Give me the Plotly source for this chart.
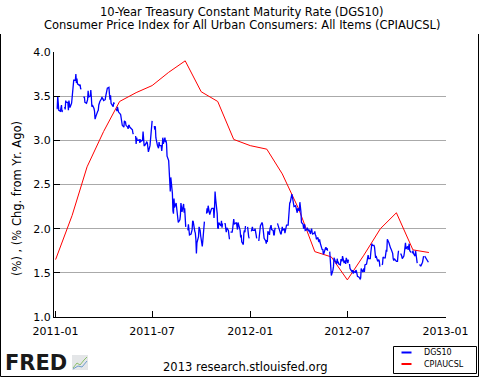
import pandas as pd
import plotly.graph_objects as go

# ---------------- data ----------------
cpi_dates = pd.date_range("2011-01-01", "2012-12-01", freq="MS")
cpi_values = [1.65, 2.15, 2.70, 3.10, 3.44, 3.54, 3.62, 3.77, 3.90, 3.55, 3.44, 3.01,
              2.94, 2.90, 2.62, 2.22, 1.74, 1.68, 1.42, 1.70, 2.00, 2.18, 1.76, 1.73]

dgs10_2011 = [
    # Jan
    3.36, 3.36, 3.50, 3.44, 3.34, 3.33, 3.37, 3.40, 3.32, 3.34, None, 3.38, 3.35, 3.45, 3.43,
    3.43, 3.34, 3.45, 3.41, 3.37, 3.42,
    # Feb
    3.48, 3.52, 3.58, 3.68, 3.68, 3.75, 3.65, 3.70, 3.64, 3.62, 3.62, 3.63, 3.58, 3.59,
    None, 3.49, 3.49, 3.49, 3.43, 3.42,
    # Mar
    3.44, 3.46, 3.56, 3.49, 3.50, 3.57, 3.49, 3.38, 3.40, 3.36, 3.33, 3.24, 3.27, 3.28,
    3.33, 3.34, 3.40, 3.44, 3.44, 3.47, 3.49, 3.47, 3.47,
    # Apr
    3.45, 3.46, 3.50, 3.56, 3.56, 3.59, 3.60, 3.52, 3.46, 3.51, 3.42, 3.39, 3.38, 3.43, 3.41,
    None, 3.36, 3.33, 3.38, 3.35, 3.32,
    # May
    3.30, 3.29, 3.25, 3.18, 3.17, 3.15, 3.22, 3.21, 3.21, 3.17, 3.15, 3.13, 3.17, 3.17, 3.15,
    3.13, 3.13, 3.12, 3.08, 3.07, None, 3.05,
    # Jun
    2.96, 3.03, 3.00, 3.00, 3.01, 2.97, 3.01, 2.99, 3.00, 3.10, 2.98, 2.94, 2.94,
    2.97, 2.98, 2.97, 2.93, 2.87, 2.94, 3.03, 3.11, 3.18,
    # Jul
    3.22, None, 3.16, 3.12, 3.16, 3.03, 2.94, 2.92, 2.91, 2.98, 2.94, 2.94, 2.88, 2.94, 3.03,
    2.96, 3.03, 2.98, 3.00, 2.96, 2.82,
    # Aug
    2.77, 2.66, 2.64, 2.42, 2.58, 2.40, 2.20, 2.17, 2.34, 2.24, 2.29, 2.23, 2.17, 2.08, 2.07,
    2.10, 2.15, 2.29, 2.23, 2.19, 2.28, 2.18, 2.23,
    # Sep
    2.15, 2.02, None, 1.98, 2.05, 1.99, 1.93, 1.94, 1.98, 1.99, 2.09, 2.08, 1.97, 1.95, 1.88,
    1.72, 1.84, 1.91, 2.02, 2.00, 1.98, 1.92,
    # Oct
    1.80, 1.86, 1.91, 2.00, 2.08, None, 2.17, 2.23, 2.18, 2.26, 2.16, 2.20, 2.20, 2.22, 2.23,
    2.23, 2.12, 2.23, 2.42, 2.34, 2.17,
    # Nov
    2.01, 2.00, 2.07, 2.06, 2.03, 2.09, 2.01, 2.06, None, 2.05, 2.06, 2.00, 1.96, 2.01,
    1.98, 1.93, 1.88, None, 1.96, 1.96, 2.00, 2.08,
    # Dec
    2.11, 2.05, 2.06, 2.07, 2.03, 1.99, 2.07, 2.02, 1.98, 1.90, 1.93, 1.85, 1.82, 1.95, 1.98,
    1.96, 2.03, None, 2.02, 1.93, 1.91, 1.89,
]

dgs10_2012 = [
    # Jan
    None, 1.97, 1.99, 2.02, 1.98, 1.98, 2.00, 1.93, 1.93, 1.89, None, 1.86, 1.92, 1.98, 2.03,
    2.07, 2.05, 2.00, 1.95, 1.89, 1.86, 1.83,
    # Feb
    1.87, 1.85, 1.97, 1.93, 2.00, 2.02, 2.04, 1.99, 1.98, 1.93, 1.93, 1.99, 2.01,
    None, 2.06, 2.04, 2.01, 1.98, 1.94, 1.94, 1.98,
    # Mar
    2.02, 1.98, 2.00, 1.95, 1.99, 2.03, 2.04, 2.04, 2.14, 2.29, 2.29, 2.30,
    2.39, 2.36, 2.30, 2.29, 2.25, 2.26, 2.21, 2.20, 2.18, 2.23,
    # Apr
    2.20, 2.30, 2.25, 2.19, 2.07, 2.05, 2.00, 2.04, 2.05, 1.98, 1.99, 2.01, 1.98, 1.97, 1.99,
    1.94, 1.98, 2.00, 1.96, 1.94, 1.95,
    # May
    1.97, 1.93, 1.92, 1.88, 1.90, 1.86, 1.85, 1.88, 1.84, 1.78, 1.76, 1.77, 1.71, 1.72,
    1.78, 1.79, 1.76, 1.78, 1.75, None, 1.74, 1.65, 1.59,
    # Jun
    1.47, 1.53, 1.57, 1.67, 1.64, 1.64, 1.60, 1.66, 1.62, 1.62, 1.60, 1.59, 1.65, 1.65, 1.63,
    1.69, 1.61, 1.64, 1.64, 1.60, 1.67,
    # Jul
    1.61, 1.65, None, 1.60, 1.55, 1.52, 1.51, 1.53, 1.49, 1.52, 1.50, 1.53, 1.52, 1.49, 1.46,
    1.45, 1.43, 1.43, 1.44, 1.55, 1.51, 1.53,
    # Aug
    1.55, 1.51, 1.59, 1.60, 1.66, 1.67, 1.70, 1.66, 1.66, 1.73, 1.79, 1.83, 1.81,
    1.81, 1.79, 1.70, 1.67, 1.69, 1.63, 1.64, 1.65, 1.63, 1.57,
    # Sep
    None, 1.59, 1.60, 1.68, 1.67, 1.67, 1.70, 1.76, 1.74, 1.88, 1.84, 1.81, 1.78, 1.78, 1.77,
    1.72, 1.66, 1.64, 1.66, 1.65,
    # Oct
    1.63, 1.63, 1.63, 1.70, 1.75, None, 1.72, 1.71, 1.69, 1.66, 1.69, 1.73, 1.81, 1.84, 1.77,
    1.80, 1.76, 1.80, 1.83, 1.75, 1.73, None, 1.72,
    # Nov
    1.75, 1.72, 1.69, 1.75, 1.68, 1.62, 1.61, None, 1.59, 1.59, 1.58, 1.58,
    1.62, 1.66, 1.69, None, 1.69, 1.66, 1.64, 1.63, 1.62, 1.62,
]

dates_2011 = pd.bdate_range("2011-01-03", "2011-12-30")
dates_2012 = pd.bdate_range("2012-01-02", "2012-11-30")
if len(dates_2011) != len(dgs10_2011) or len(dates_2012) != len(dgs10_2012):
    raise ValueError(f"length mismatch {len(dates_2011)} {len(dgs10_2011)} "
                     f"{len(dates_2012)} {len(dgs10_2012)}")
dgs10_dates = list(dates_2011) + list(dates_2012)
dgs10_values = dgs10_2011 + dgs10_2012

x_ticks = ["2011-01-01", "2011-07-01", "2012-01-01", "2012-07-01", "2013-01-01"]
x_tick_labels = ["2011-01", "2011-07", "2012-01", "2012-07", "2013-01"]
series_names = ["DGS10", "CPIAUCSL"]
series_colors = ["#0000FF", "#FF0000"]

title_lines = ["10-Year Treasury Constant Maturity Rate (DGS10)",
               "Consumer Price Index for All Urban Consumers: All Items (CPIAUCSL)"]
y_title = "(%) , (% Chg. from Yr. Ago)"
credit = "2013 research.stlouisfed.org"

# ---------------- layout helpers ----------------
W, H = 480, 378
L, R, T, B = 54, 34, 52, 61
PW, PH = W - L - R, H - T - B


def px(x):
    return (x - L) / PW


def py(y):
    return (H - B - y) / PH


FONT = "DejaVu Sans"

fig = go.Figure()
fig.add_trace(go.Scatter(x=cpi_dates, y=cpi_values, mode="lines", name=series_names[1],
                         line=dict(color=series_colors[1], width=1), showlegend=False))
fig.add_trace(go.Scatter(x=dgs10_dates, y=dgs10_values, mode="lines", name=series_names[0],
                         line=dict(color=series_colors[0], width=1.3), showlegend=False))

shapes = []
annotations = []

# frame (no top edge)
for (x0, y0, x1, y1) in [(0.5, 34, 0.5, 376.5), (478.5, 34, 478.5, 376.5), (0.5, 376.5, 478.5, 376.5)]:
    shapes.append(dict(type="line", xref="paper", yref="paper",
                       x0=px(x0), y0=py(y0), x1=px(x1), y1=py(y1),
                       line=dict(color="black", width=1)))

# manual legend
shapes.append(dict(type="rect", xref="paper", yref="paper",
                   x0=px(393.5), y0=py(346.5), x1=px(476.5), y1=py(373.5),
                   line=dict(color="black", width=1), fillcolor="white"))
for i, (name, col) in enumerate(zip(series_names, series_colors)):
    yy = 352.5 + i * 11.5
    shapes.append(dict(type="line", xref="paper", yref="paper",
                       x0=px(401.5), y0=py(yy), x1=px(411.5), y1=py(yy),
                       line=dict(color=col, width=2)))
    annotations.append(dict(text=name, xref="paper", yref="paper", x=px(422), y=py(yy),
                            xanchor="left", yanchor="middle", showarrow=False,
                            font=dict(family=FONT, size=8, color="black")))

# titles
for i, line in enumerate(title_lines):
    annotations.append(dict(text=line, xref="paper", yref="paper", x=px(242), y=py(12 + i * 13.5),
                            xanchor="center", yanchor="middle", showarrow=False,
                            font=dict(family=FONT, size=11.5, color="black")))

annotations.append(dict(text=y_title, xref="paper", yref="paper", x=px(17), y=py(199),
                        xanchor="center", yanchor="middle", textangle=-90, showarrow=False,
                        font=dict(family=FONT, size=11.5, color="black")))

annotations.append(dict(text=credit, xref="paper", yref="paper", x=px(245), y=py(367),
                        xanchor="center", yanchor="middle", showarrow=False,
                        font=dict(family=FONT, size=11.5, color="black")))

# FRED logo
annotations.append(dict(text="<b>FRED</b>", xref="paper", yref="paper", x=px(3), y=py(363),
                        xanchor="left", yanchor="middle", showarrow=False,
                        font=dict(family=FONT, size=21, color="#1a1a1a")))
shapes.append(dict(type="rect", xref="paper", yref="paper",
                   x0=px(72), y0=py(355), x1=px(88), y1=py(370),
                   line=dict(width=0), fillcolor="#e4e6e8"))
shapes.append(dict(type="path", xref="paper", yref="paper",
                   path="M {} {} L {} {} L {} {} L {} {} L {} {}".format(
                       px(73), py(368), px(77), py(363), px(80), py(365), px(84), py(360), px(87), py(357)),
                   line=dict(color="#8bbf6a", width=1)))
shapes.append(dict(type="path", xref="paper", yref="paper",
                   path="M {} {} L {} {} L {} {} L {} {}".format(
                       px(73), py(369), px(78), py(366), px(82), py(367), px(87), py(361)),
                   line=dict(color="#6f9ccc", width=1)))

fig.update_layout(
    width=W, height=H,
    margin=dict(l=L, r=R, t=T, b=B, autoexpand=False),
    paper_bgcolor="white", plot_bgcolor="white",
    font=dict(family=FONT, size=11, color="black"),
    shapes=shapes, annotations=annotations,
    showlegend=False,
)
fig.update_xaxes(
    type="date", range=["2010-12-29", "2013-01-02"],
    tickvals=x_ticks, ticktext=x_tick_labels,
    showgrid=False, zeroline=False,
    showline=True, linecolor="black", linewidth=1,
    ticks="inside", ticklen=6, tickcolor="black", ticklabelstandoff=4,
    tickfont=dict(family=FONT, size=11, color="black"),
)
fig.update_yaxes(
    range=[1.0, 4.0], dtick=0.5, tick0=1.0, tickformat=".1f",
    showgrid=True, gridcolor="#aaaaaa", gridwidth=1, zeroline=False,
    showline=True, linecolor="black", linewidth=1,
    ticks="inside", ticklen=6, tickcolor="black",
    tickfont=dict(family=FONT, size=11, color="black"),
)

fig.write_html("out.html",
               config={"displayModeBar": False},
               post_script="document.body.style.margin='0';document.body.style.overflow='hidden';")
